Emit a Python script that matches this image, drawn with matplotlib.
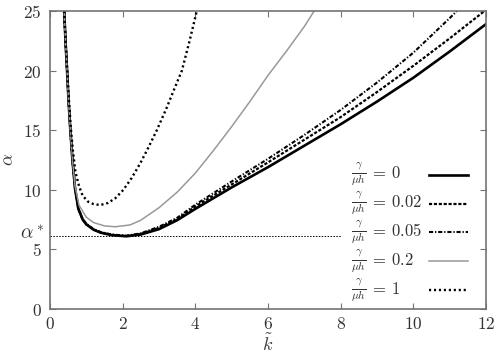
import numpy as np
import matplotlib
matplotlib.use("Agg")
from matplotlib import pyplot as plt

# values (k tilde, alpha)
k_g0 = [0.39, 0.43, 0.47, 0.51, 0.56, 0.62, 0.69, 0.78, 0.9, 1.0, 1.2, 1.4, 1.7, 2.1,
        2.5, 3.0, 3.5, 4.0, 5.0, 6.0, 7.0, 8.0, 9.0, 10.0, 11.0, 12.0]
a_g0 = [25, 22.3, 20, 17.5, 15, 12.4, 10.1, 8.4, 7.5, 7.1, 6.65, 6.4, 6.2, 6.1,
        6.25, 6.7, 7.45, 8.4, 10.2, 11.9, 13.7, 15.5, 17.4, 19.4, 21.6, 23.9]

k_g002 = k_g0
a_g002 = [25, 22.3, 20, 17.5, 15, 12.4, 10.1, 8.4, 7.5, 7.1, 6.67, 6.42, 6.22, 6.12,
          6.3, 6.8, 7.55, 8.6, 10.45, 12.3, 14.2, 16.1, 18.2, 20.4, 22.7, 25.1]

k_g005 = [0.39, 0.43, 0.47, 0.51, 0.56, 0.62, 0.69, 0.78, 0.9, 1.0, 1.2, 1.4, 1.7, 2.1,
          2.5, 3.0, 3.5, 4.0, 5.0, 6.0, 7.0, 8.0, 9.0, 10.0, 11.0, 11.2]
a_g005 = [25, 22.3, 20, 17.5, 15, 12.4, 10.1, 8.45, 7.55, 7.15, 6.7, 6.45, 6.25, 6.15,
          6.35, 6.9, 7.65, 8.75, 10.7, 12.6, 14.6, 16.7, 19.0, 21.5, 24.4, 25.0]

k_g02 = [0.39, 0.43, 0.47, 0.51, 0.56, 0.62, 0.69, 0.8, 1.0, 1.2, 1.5, 1.8, 2.2, 2.5,
         3.0, 3.5, 4.0, 4.5, 5.0, 5.5, 6.0, 6.5, 7.0, 7.27]
a_g02 = [25, 22.3, 20, 17.5, 15, 12.5, 10.3, 8.7, 7.7, 7.25, 6.97, 6.9, 7.05, 7.45,
         8.5, 9.8, 11.4, 13.3, 15.3, 17.4, 19.6, 21.6, 23.7, 25]

k_g1 = [0.39, 0.43, 0.47, 0.52, 0.57, 0.63, 0.7, 0.8, 0.9, 1.05, 1.2, 1.38, 1.6, 1.8,
        2.02, 2.25, 2.48, 2.7, 2.94, 3.2, 3.4, 3.63, 3.85, 4.04]
a_g1 = [25, 22.4, 20.2, 17.6, 15.3, 13.3, 11.5, 10.3, 9.5, 9.0, 8.8, 8.72, 8.9, 9.3,
        10.0, 11.0, 12.2, 13.5, 15.0, 16.8, 18.3, 20.0, 22.6, 25]

alpha_star = 6.1
ratio_vals = ['0', '0.02', '0.05', '0.2', '1']
xticks = [0, 2, 4, 6, 8, 10, 12]
yticks = [0, 5, 10, 15, 20, 25]

plt.rcParams['mathtext.fontset'] = 'cm'
txt = '0.2'

fig = plt.figure(figsize=(4.98, 3.56), dpi=100)
ax = fig.add_axes([50/498, 47/356, 436/498, 298/356])

styles = [
    dict(color='black', lw=1.9, linestyle='-'),
    dict(color='black', lw=1.6, linestyle=(0, (1.4, 0.8))),
    dict(color='black', lw=1.5, linestyle=(0, (2.0, 0.9, 0.6, 0.9))),
    dict(color='0.6', lw=1.1, linestyle='-'),
    dict(color='black', lw=1.7, linestyle=(0, (0.9, 1.2))),
]
series = [(k_g0, a_g0), (k_g002, a_g002), (k_g005, a_g005), (k_g02, a_g02), (k_g1, a_g1)]
for (k, a), st in zip(series, styles):
    ax.plot(k, a, **st)

# alpha* reference line
ax.plot([0, 8], [alpha_star, alpha_star], color='black', lw=0.7, linestyle=(0, (1.5, 1.5)))

ax.set_xlim(0, 12)
ax.set_ylim(0, 25)
ax.set_xticks(xticks)
ax.set_yticks(yticks)
ax.set_xticklabels([f'${v}$' for v in xticks], fontsize=12.5, color=txt)
ax.set_yticklabels([f'${v}$' for v in yticks], fontsize=12.5, color=txt)
ax.tick_params(direction='in', length=4, width=0.8, color='0.45', top=True, right=True)
ax.tick_params(axis='x', pad=4)
ax.tick_params(axis='y', pad=6)
for s in ax.spines.values():
    s.set_color('0.45')
    s.set_linewidth(1.2)

ax.text(-0.17, alpha_star + 0.2, r'$\alpha^*$', fontsize=14, ha='right', va='center', color=txt)
ax.set_ylabel(r'$\alpha$', fontsize=13, labelpad=4, color=txt)
ax.set_xlabel(r'$\tilde{k}$', fontsize=13, labelpad=1, color=txt)

# key, drawn like the gnuplot one: text left aligned, sample on the right
rows = [0.451, 0.354, 0.257, 0.16, 0.063]
for val, st, y in zip(ratio_vals, styles, rows):
    ax.text(0.690, y, r'$\frac{\gamma}{\mu h}$', transform=ax.transAxes, fontsize=11.5,
            ha='left', va='center', color=txt)
    ax.text(0.735, y + 0.004, rf'$=\,{val}$', transform=ax.transAxes, fontsize=12,
            ha='left', va='center', color=txt)
    ax.plot([0.869, 0.959], [y, y], transform=ax.transAxes, **st)

fig.savefig('out.png', dpi=100)
